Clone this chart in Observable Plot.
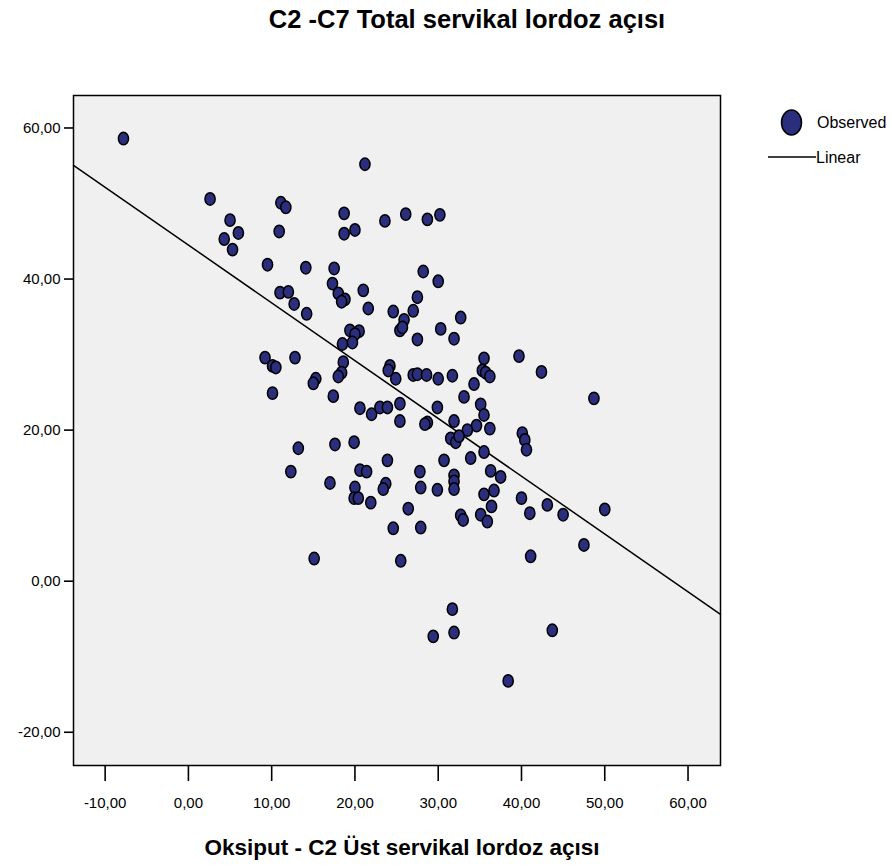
<!DOCTYPE html>
<html><head><meta charset="utf-8">
<script src="https://cdn.jsdelivr.net/npm/d3@7"></script>
<script src="https://cdn.jsdelivr.net/npm/@observablehq/plot@0.6"></script>
<style>
body{margin:0;background:#fff;font-family:"Liberation Sans",Arial,sans-serif;}
#wrap{position:relative;width:892px;height:866px;overflow:hidden;background:#fff;}
#chart{position:absolute;left:0;top:0;}
#title{position:absolute;left:0;width:934px;text-align:center;top:4px;font-weight:bold;font-size:25.5px;line-height:30px;color:#000;white-space:nowrap;}
#xlabel{position:absolute;left:0;width:804px;text-align:center;top:835px;font-weight:bold;font-size:22.5px;line-height:26px;color:#000;white-space:nowrap;}
#legend{position:absolute;left:760px;top:100px;}
</style></head><body>
<div id="wrap">
  <div id="chart"></div>
  <div id="title">C2 -C7 Total servikal lordoz açısı</div>
  <div id="xlabel">Oksiput - C2 Üst servikal lordoz açısı</div>
  <svg id="legend" width="132" height="80"></svg>
</div>
<script>
// Observed values (x: Oksiput - C2, y: C2-C7)
const xValues = [
  -7.8, 2.6, 11.1, 11.7, 5.0, 6.0, 4.3, 5.3, 10.9, 9.5, 11.0, 12.0, 12.7,
  21.2, 18.7, 20.0, 18.7, 23.6, 26.1, 28.7, 30.2, 14.1, 17.5, 28.2, 30.0, 17.3, 18.0, 18.8, 18.4, 21.0, 21.6, 14.2, 24.6, 27.5, 27.0, 25.9, 32.7,
  25.4, 25.7, 19.4, 20.5, 20.0, 18.5, 19.7, 30.3, 31.9, 27.5, 12.8, 18.6, 18.4, 18.0, 15.3, 15.0, 17.4, 24.2, 24.0, 24.9, 27.0, 27.5, 28.6, 30.0, 31.7,
  35.5, 35.3, 35.7, 36.2, 34.3, 33.1, 35.1, 35.5, 20.6, 22.0, 23.0, 23.9, 25.4, 25.4, 29.9, 28.7, 28.4, 31.9, 34.6, 33.5, 36.2, 31.5, 32.1, 32.5,
  35.5, 33.9, 30.7, 13.2, 17.6, 19.9, 23.9, 12.3, 17.0, 20.6, 21.4, 27.8, 31.9, 31.9, 31.9, 36.3, 37.5, 20.0, 19.9, 20.4, 23.7, 23.4, 21.9, 27.9,
  29.9, 35.5, 36.7, 36.4, 26.4, 32.7, 33.0, 35.1, 35.9, 24.6, 27.9,
  9.2, 10.1, 10.5, 10.1,
  39.7, 42.4, 48.7, 40.1, 40.4, 40.6, 40.0, 41.0, 43.1, 45.0, 50.0, 47.5,
  41.1, 43.7, 38.4,
  15.1, 25.5, 31.7, 31.9, 29.4
];
const yValues = [
  58.6, 50.6, 50.1, 49.5, 47.8, 46.1, 45.3, 43.9, 46.3, 41.9, 38.2, 38.3, 36.7,
  55.2, 48.7, 46.5, 46.0, 47.7, 48.6, 47.9, 48.5, 41.5, 41.4, 41.0, 39.7, 39.4, 38.1, 37.3, 37.0, 38.5, 36.1, 35.4, 35.7, 37.6, 35.8, 34.6, 34.9,
  33.2, 33.6, 33.2, 33.1, 32.7, 31.4, 31.6, 33.4, 32.1, 32.0, 29.6, 29.0, 27.6, 27.1, 26.8, 26.2, 24.5, 28.5, 27.9, 26.8, 27.3, 27.4, 27.3, 26.8, 27.2,
  29.5, 27.9, 27.6, 27.1, 26.1, 24.4, 23.4, 22.0, 22.9, 22.1, 23.0, 23.0, 23.5, 21.2, 23.0, 21.0, 20.8, 21.2, 20.6, 20.0, 20.2, 18.9, 18.4, 19.2,
  17.1, 16.3, 16.0, 17.6, 18.1, 18.4, 16.0, 14.5, 13.0, 14.7, 14.5, 14.5, 14.0, 13.2, 12.2, 14.6, 13.8, 12.4, 11.0, 11.0, 12.9, 12.2, 10.4, 12.4,
  12.1, 11.5, 12.0, 9.9, 9.6, 8.7, 8.1, 8.8, 7.9, 7.0, 7.1,
  29.6, 28.5, 28.3, 24.9,
  29.8, 27.7, 24.2, 19.6, 18.7, 17.4, 11.0, 9.0, 10.1, 8.8, 9.5, 4.8,
  3.3, -6.5, -13.2,
  3.0, 2.7, -3.7, -6.8, -7.3
];
const xTicks = [-10, 0, 10, 20, 30, 40, 50, 60];
const yTicks = [-20, 0, 20, 40, 60];
const xDomain = [-13.8, 63.9];
const yDomain = [-24.4, 64.3];
// Linear fit
const fitIntercept = 44.5;
const fitSlope = -0.765;
const legendLabels = ["Observed", "Linear"];

const navy = "#2b2e7c";
const points = xValues.map((x, i) => ({x, y: yValues[i]}));
const fitLine = xDomain.map(x => ({x, y: fitIntercept + fitSlope * x}));
const fmt = d => d.toFixed(2).replace(".", ",");

const ellipse = {
  draw(ctx, size) {
    const r = Math.sqrt(size / Math.PI), ry = r, rx = r * 0.82, k = 0.5523;
    ctx.moveTo(rx, 0);
    ctx.bezierCurveTo(rx, ry * k, rx * k, ry, 0, ry);
    ctx.bezierCurveTo(-rx * k, ry, -rx, ry * k, -rx, 0);
    ctx.bezierCurveTo(-rx, -ry * k, -rx * k, -ry, 0, -ry);
    ctx.bezierCurveTo(rx * k, -ry, rx, -ry * k, rx, 0);
    ctx.closePath();
  }
};

const chart = Plot.plot({
  width: 892,
  height: 866,
  marginLeft: 73,
  marginRight: 172,
  marginTop: 95,
  marginBottom: 101,
  style: {fontFamily: "'Liberation Sans', Arial, sans-serif", fontSize: "15px", color: "#000", background: "transparent"},
  x: {domain: xDomain, label: null},
  y: {domain: yDomain, label: null},
  marks: [
    Plot.frame({fill: "#f0f0f0", stroke: null}),
    Plot.axisX({ticks: xTicks, tickFormat: fmt, tickSize: 16, tickPadding: 16, strokeWidth: 1.6, fontSize: 15, label: null}),
    Plot.axisY({ticks: yTicks, tickFormat: fmt, tickSize: 9, tickPadding: 4, strokeWidth: 1.6, fontSize: 15, label: null}),
    Plot.line(fitLine, {x: "x", y: "y", stroke: "#000", strokeWidth: 1.5}),
    Plot.dot(points, {x: "x", y: "y", symbol: ellipse, r: 6.2, fill: navy, stroke: "#000", strokeWidth: 1.5, fillOpacity: 1}),
    Plot.frame({stroke: "#000", strokeWidth: 1.5})
  ]
});
document.getElementById("chart").appendChild(chart);

// legend
const lg = d3.select("#legend");
lg.append("ellipse").attr("cx", 31.5).attr("cy", 22.5).attr("rx", 10).attr("ry", 12.5)
  .attr("fill", navy).attr("stroke", "#000").attr("stroke-width", 1.5);
lg.append("text").attr("x", 57).attr("y", 28).attr("font-size", 16)
  .attr("font-family", "'Liberation Sans', Arial, sans-serif").text(legendLabels[0]);
lg.append("line").attr("x1", 8).attr("x2", 56).attr("y1", 57).attr("y2", 57)
  .attr("stroke", "#000").attr("stroke-width", 1.5);
lg.append("text").attr("x", 56).attr("y", 63).attr("font-size", 16)
  .attr("font-family", "'Liberation Sans', Arial, sans-serif").text(legendLabels[1]);
</script>
</body></html>
